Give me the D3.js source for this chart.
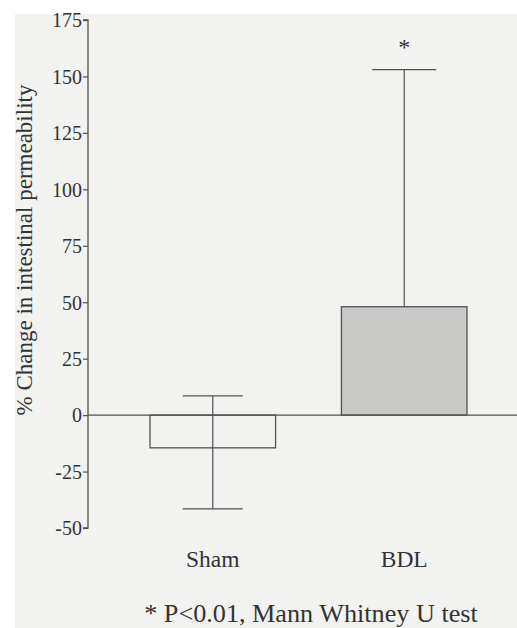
<!DOCTYPE html>
<html>
<head>
<meta charset="utf-8">
<script src="https://cdn.jsdelivr.net/npm/d3@7"></script>
<style>
  body { margin: 0; background: #fff; }
  svg text { font-family: "Liberation Serif", "Times New Roman", "DejaVu Serif", serif; fill: #333; }
</style>
</head>
<body>
<svg id="chart" width="517" height="628"></svg>
<script>
// data
const groups = ["Sham", "BDL"];
const means = [-14.5, 48];
const errHi = [8.5, 153];
const errLo = [-41.5, null];
const yTicks = [175, 150, 125, 100, 75, 50, 25, 0, -25, -50];

const width = 517, height = 628;
const margin = {left: 88, top: 20};
const serif = "Liberation Serif, Times New Roman, serif";

const svg = d3.select("#chart");

// scanned page background
svg.append("rect")
    .attr("x", 15).attr("y", 14)
    .attr("width", width - 15).attr("height", height - 14)
    .attr("fill", "#f2f2f0");

const y = d3.scaleLinear()
    .domain([-50, 175])
    .range([528, margin.top]);

const x = d3.scaleBand()
    .domain(groups)
    .range([150, 467])
    .paddingInner(0.344)
    .paddingOuter(0);

const ink = "#505050";

// y axis
const yAxis = d3.axisLeft(y).tickValues(yTicks).tickSize(5).tickPadding(1)
    .tickFormat(d => String(d));
const ga = svg.append("g")
    .attr("transform", `translate(${margin.left},0)`)
    .call(yAxis);
ga.attr("font-family", serif).attr("font-size", 20);
ga.select(".domain").attr("stroke", ink).attr("stroke-width", 1.3)
    .attr("d", `M-5,${y(175)}H0V${y(-50)}H-5`);
ga.selectAll(".tick line").attr("stroke", ink).attr("stroke-width", 1.2);
ga.selectAll(".tick text")
    .attr("font-size", 20)
    .attr("font-family", serif)
    .attr("dy", "0.34em")
    .attr("fill", "#333");

// bars
svg.selectAll(".bar")
    .data(groups)
    .enter().append("rect")
    .attr("class", "bar")
    .attr("x", d => x(d))
    .attr("width", x.bandwidth())
    .attr("y", (d, i) => y(Math.max(0, means[i])))
    .attr("height", (d, i) => Math.abs(y(means[i]) - y(0)))
    .attr("fill", (d, i) => means[i] > 0 ? "#c9c9c7" : "none")
    .attr("stroke", ink)
    .attr("stroke-width", 1.3);

// zero line across the page
svg.append("line")
    .attr("x1", margin.left).attr("x2", width)
    .attr("y1", y(0)).attr("y2", y(0))
    .attr("stroke", ink).attr("stroke-width", 1.3);

// error bars
const capW = [30, 32];
groups.forEach((g, i) => {
    const cx = x(g) + x.bandwidth() / 2;
    const lo = errLo[i] == null ? means[i] : errLo[i];
    svg.append("line")
        .attr("x1", cx).attr("x2", cx)
        .attr("y1", y(errHi[i])).attr("y2", y(lo))
        .attr("stroke", ink).attr("stroke-width", 1.2);
    svg.append("line")
        .attr("x1", cx - capW[i]).attr("x2", cx + capW[i])
        .attr("y1", y(errHi[i])).attr("y2", y(errHi[i]))
        .attr("stroke", ink).attr("stroke-width", 1.3);
    if (errLo[i] != null) {
        svg.append("line")
            .attr("x1", cx - capW[i]).attr("x2", cx + capW[i])
            .attr("y1", y(errLo[i])).attr("y2", y(errLo[i]))
            .attr("stroke", ink).attr("stroke-width", 1.3);
    }
});

// significance star
svg.append("text")
    .attr("x", x("BDL") + x.bandwidth() / 2)
    .attr("y", y(errHi[1]) - 15)
    .attr("text-anchor", "middle")
    .attr("font-family", serif)
    .attr("font-size", 24)
    .text("*");

// category labels
svg.selectAll(".cat")
    .data(groups)
    .enter().append("text")
    .attr("class", "cat")
    .attr("x", d => x(d) + x.bandwidth() / 2)
    .attr("y", 567)
    .attr("text-anchor", "middle")
    .attr("font-family", serif)
    .attr("font-size", 23.5)
    .text(d => d);

// y axis title
svg.append("text")
    .attr("transform", "translate(32,250) rotate(-90)")
    .attr("text-anchor", "middle")
    .attr("font-family", serif)
    .attr("font-size", 23)
    .text("% Change in intestinal permeability");

// footnote
svg.append("text")
    .attr("x", 311).attr("y", 622)
    .attr("text-anchor", "middle")
    .attr("font-family", serif)
    .attr("font-size", 26.2)
    .text("* P<0.01, Mann Whitney U test");
</script>
</body>
</html>
